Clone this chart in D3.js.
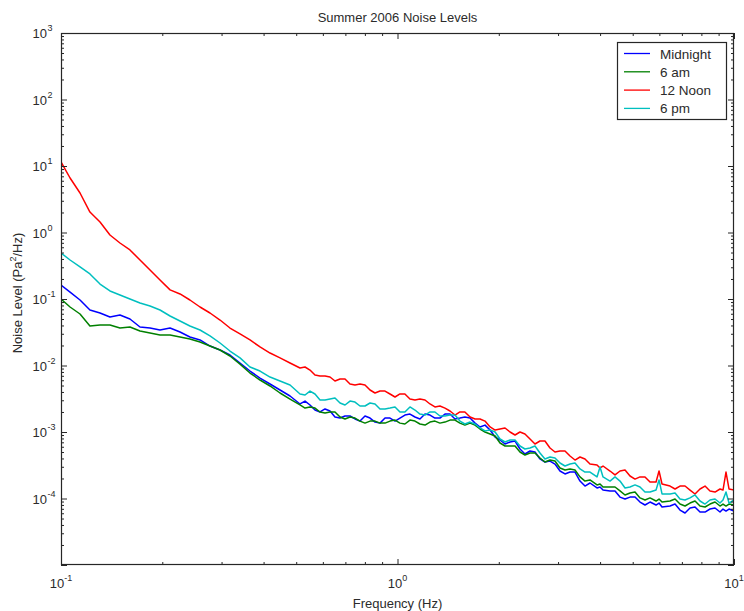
<!DOCTYPE html>
<html>
<head>
<meta charset="utf-8">
<script src="https://cdn.jsdelivr.net/npm/d3@7/dist/d3.min.js"></script>
<style>
  html, body { margin: 0; padding: 0; background: #fff; }
  svg { display: block; font-family: "Liberation Sans", Arial, sans-serif; }
</style>
</head>
<body>
<svg id="chart" width="744" height="611"></svg>
<script>
// Frequency bins (Hz), shared by all four spectra
const freqs = [
  0.1, 0.1064, 0.1139, 0.1219, 0.1306, 0.1398, 0.1497, 0.1603, 0.1717, 0.1839,
  0.1969, 0.2109, 0.2258, 0.2416, 0.2589, 0.2772, 0.2969, 0.3178, 0.3404, 0.3645,
  0.3903, 0.4180, 0.4476, 0.4793,
  0.5132, 0.5311, 0.5495, 0.5686, 0.5885, 0.6090, 0.6301, 0.6520, 0.6748, 0.6983,
  0.7225, 0.7476, 0.7737, 0.8006, 0.8286, 0.8574, 0.8872, 0.9181, 0.9500, 0.9831,
  1.017, 1.052, 1.089, 1.127, 1.166, 1.207, 1.249, 1.292, 1.337, 1.384,
  1.432, 1.482, 1.533, 1.586, 1.643, 1.700, 1.759, 1.820, 1.884, 1.950,
  2.017, 2.087, 2.160, 2.235, 2.312, 2.392, 2.476, 2.562, 2.651, 2.743,
  2.839, 2.938, 3.040, 3.146, 3.256, 3.369, 3.486, 3.607, 3.733,
  3.917, 3.998, 4.081,
  4.281, 4.430, 4.584, 4.744, 4.909, 5.080, 5.256, 5.439, 5.629,
  5.866, 5.987, 6.111,
  6.455, 6.680, 6.911, 7.152, 7.401, 7.659, 7.925, 8.201, 8.486, 8.781, 9.087,
  9.275, 9.467, 9.664, 10];

// Noise levels, Pa^2/Hz
const midnight = [
  0.162, 0.127, 0.0966, 0.0683, 0.0616, 0.0536, 0.0575, 0.0500, 0.0379, 0.0366,
  0.0342, 0.0366, 0.0319, 0.0268, 0.0242, 0.0196, 0.0171, 0.0144, 0.0109, 0.00826,
  0.00648, 0.00527, 0.00428, 0.00348,
  0.00264, 0.00292, 0.00255, 0.00214, 0.00200, 0.00222, 0.00207, 0.00168, 0.00162, 0.00174,
  0.00174, 0.00157, 0.00146, 0.00174, 0.00162, 0.00141, 0.00136, 0.00162, 0.00162, 0.00146,
  0.00162, 0.00180, 0.00186, 0.00168, 0.00157, 0.00186, 0.00180, 0.00162, 0.00162, 0.00186,
  0.00186, 0.00157, 0.00162, 0.00168, 0.00162, 0.00136, 0.00119, 0.00127, 0.00107, 0.000841,
  0.000758, 0.000660, 0.000707, 0.000732, 0.000555, 0.000467, 0.000518, 0.000500, 0.000393, 0.000354,
  0.000366, 0.000330, 0.000259, 0.000234, 0.000250, 0.000250, 0.000183, 0.000154, 0.000171,
  0.000144, 0.000149, 0.000134,
  0.000130, 0.000130, 0.000105, 0.0000982, 0.000105, 0.000105, 0.0000885, 0.0000798, 0.0000885,
  0.0000798, 0.0000855, 0.0000745,
  0.0000771, 0.0000826, 0.0000671, 0.0000605, 0.0000719, 0.0000745, 0.0000626, 0.0000626, 0.0000695, 0.0000719, 0.0000626,
  0.0000695, 0.0000648, 0.0000695, 0.0000648];

const sixAm = [
  0.100, 0.0758, 0.0595, 0.0393, 0.0406, 0.0406, 0.0366, 0.0379, 0.0330, 0.0308,
  0.0288, 0.0288, 0.0268, 0.0250, 0.0226, 0.0196, 0.0171, 0.0139, 0.0105, 0.00771,
  0.00605, 0.00492, 0.00386, 0.00313,
  0.00255, 0.00229, 0.00238, 0.00229, 0.00200, 0.00193, 0.00200, 0.00200, 0.00168, 0.00157,
  0.00168, 0.00162, 0.00146, 0.00136, 0.00146, 0.00146, 0.00136, 0.00136, 0.00146, 0.00151,
  0.00136, 0.00132, 0.00151, 0.00146, 0.00132, 0.00127, 0.00141, 0.00146, 0.00136, 0.00141,
  0.00151, 0.00151, 0.00136, 0.00127, 0.00136, 0.00127, 0.00111, 0.00100, 0.000933, 0.000871,
  0.000683, 0.000616, 0.000616, 0.000616, 0.000500, 0.000451, 0.000483, 0.000483, 0.000406, 0.000354,
  0.000379, 0.000366, 0.000288, 0.000268, 0.000278, 0.000268, 0.000211, 0.000183, 0.000190,
  0.000160, 0.000165, 0.000149,
  0.000149, 0.000149, 0.000130, 0.000113, 0.000121, 0.000125, 0.000102, 0.0000949, 0.000102,
  0.0000917, 0.0000982, 0.0000885,
  0.0000917, 0.0000982, 0.0000826, 0.0000771, 0.0000855, 0.0000917, 0.0000771, 0.0000745, 0.0000826, 0.0000885, 0.0000771,
  0.0000826, 0.0000771, 0.0000826, 0.0000798];

const noon = [
  11.5, 6.60, 3.93, 2.03, 1.44, 0.917, 0.695, 0.546, 0.386, 0.273,
  0.193, 0.137, 0.119, 0.0966, 0.0758, 0.0616, 0.0483, 0.0366, 0.0298, 0.0242,
  0.0190, 0.0154, 0.0130, 0.0109,
  0.00917, 0.00949, 0.00855, 0.00719, 0.00695, 0.00695, 0.00671, 0.00584, 0.00626, 0.00626,
  0.00527, 0.00509, 0.00527, 0.00509, 0.00428, 0.00386, 0.00413, 0.00413, 0.00373, 0.00336,
  0.00373, 0.00373, 0.00313, 0.00303, 0.00313, 0.00303, 0.00264, 0.00238, 0.00246, 0.00229,
  0.00207, 0.00180, 0.00200, 0.00200, 0.00168, 0.00157, 0.00157, 0.00146, 0.00119, 0.00107,
  0.00111, 0.00115, 0.00100, 0.000901, 0.00100, 0.000933, 0.000785, 0.000660, 0.000732, 0.000732,
  0.000575, 0.000500, 0.000518, 0.000518, 0.000436, 0.000379, 0.000421, 0.000393, 0.000330,
  0.000319, 0.000288, 0.000308,
  0.000259, 0.000226, 0.000259, 0.000268, 0.000218, 0.000196, 0.000211, 0.000211, 0.000177,
  0.000177, 0.000259, 0.000165,
  0.000154, 0.000139, 0.000154, 0.000154, 0.000134, 0.000117, 0.000139, 0.000154, 0.000130, 0.000125, 0.000139,
  0.000134, 0.000250, 0.000139, 0.000134];

const sixPm = [
  0.492, 0.386, 0.303, 0.238, 0.168, 0.132, 0.115, 0.100, 0.0871, 0.0785,
  0.0683, 0.0555, 0.0467, 0.0393, 0.0342, 0.0278, 0.0218, 0.0165, 0.0130, 0.00949,
  0.00826, 0.00671, 0.00584, 0.00509,
  0.00373, 0.00360, 0.00413, 0.00373, 0.00303, 0.00303, 0.00313, 0.00324, 0.00273, 0.00255,
  0.00292, 0.00282, 0.00246, 0.00246, 0.00273, 0.00264, 0.00222, 0.00222, 0.00229, 0.00238,
  0.00200, 0.00200, 0.00238, 0.00214, 0.00186, 0.00180, 0.00200, 0.00200, 0.00174, 0.00174,
  0.00180, 0.00180, 0.00146, 0.00132, 0.00141, 0.00132, 0.00115, 0.00104, 0.00107, 0.00100,
  0.000785, 0.000707, 0.000758, 0.000758, 0.000616, 0.000555, 0.000575, 0.000616, 0.000483, 0.000393,
  0.000421, 0.000406, 0.000342, 0.000308, 0.000330, 0.000342, 0.000278, 0.000250, 0.000250,
  0.000211, 0.000298, 0.000211,
  0.000183, 0.000211, 0.000183, 0.000144, 0.000149, 0.000160, 0.000149, 0.000125, 0.000125,
  0.000134, 0.000190, 0.000117,
  0.000117, 0.000121, 0.0000982, 0.0000949, 0.000102, 0.000113, 0.0000917, 0.0000826, 0.0000949, 0.0000982, 0.0000855,
  0.0000949, 0.000125, 0.0000855, 0.0000949];

const seriesNames = ["Midnight", "6 am", "12 Noon", "6 pm"];
const seriesValues = [midnight, sixAm, noon, sixPm];
const seriesColors = ["#0000ff", "#008000", "#ff0000", "#00bfbf"];

// Axis decades (exponents of 10); the lowest y decade carries no label
const xDecades = [-1, 0, 1];
const yDecades = [-5, -4, -3, -2, -1, 0, 1, 2, 3];
const yLabelDecades = [-4, -3, -2, -1, 0, 1, 2, 3];

const chartTitle = "Summer 2006 Noise Levels";
const xTitle = "Frequency (Hz)";

const svg = d3.select("#chart");
const plot = { left: 61, right: 734, top: 33, bottom: 565 };

const x = d3.scaleLog().domain([0.1, 10]).range([plot.left, plot.right]);
const y = d3.scaleLog().domain([1e-5, 1e3]).range([plot.bottom, plot.top]);

// minor ticks: 2..9 within each decade
function minorTicks(decades) {
  const out = [];
  for (let i = 0; i < decades.length - 1; i++) {
    for (let m = 2; m <= 9; m++) out.push(m * Math.pow(10, decades[i]));
  }
  return out;
}
const xMajor = xDecades.map(e => Math.pow(10, e));
const yMajor = yDecades.map(e => Math.pow(10, e));
const xMinor = minorTicks(xDecades);
const yMinor = minorTicks(yDecades);

svg.append("defs").append("clipPath").attr("id", "plotClip")
  .append("rect")
  .attr("x", plot.left).attr("y", plot.top)
  .attr("width", plot.right - plot.left).attr("height", plot.bottom - plot.top);

svg.append("rect")
  .attr("x", plot.left).attr("y", plot.top)
  .attr("width", plot.right - plot.left).attr("height", plot.bottom - plot.top)
  .attr("fill", "#fff");

// spectra, drawn in legend order so 6 pm ends up on top
const line = d3.line()
  .x(d => x(d[0]))
  .y(d => y(d[1]));

const lines = svg.append("g").attr("clip-path", "url(#plotClip)");
seriesValues.forEach((vals, i) => {
  lines.append("path")
    .datum(freqs.map((f, j) => [f, vals[j]]))
    .attr("fill", "none")
    .attr("stroke", seriesColors[i])
    .attr("stroke-width", 1.5)
    .attr("stroke-linejoin", "round")
    .attr("d", line);
});

// inward ticks on all four sides
const axisColor = "#262626";
function drawAxis(axisGen, transform, ticks, size) {
  const g = svg.append("g").attr("transform", transform)
    .call(axisGen.tickValues(ticks).tickSize(size).tickFormat(""));
  g.select(".domain").remove();
  g.selectAll(".tick line").attr("stroke", axisColor).attr("stroke-width", 1);
  return g;
}
drawAxis(d3.axisBottom(x), `translate(0,${plot.bottom})`, xMajor, -6);
drawAxis(d3.axisBottom(x), `translate(0,${plot.bottom})`, xMinor, -3);
drawAxis(d3.axisTop(x), `translate(0,${plot.top})`, xMajor, -6);
drawAxis(d3.axisTop(x), `translate(0,${plot.top})`, xMinor, -3);
drawAxis(d3.axisLeft(y), `translate(${plot.left},0)`, yMajor, -6);
drawAxis(d3.axisLeft(y), `translate(${plot.left},0)`, yMinor, -3);
drawAxis(d3.axisRight(y), `translate(${plot.right},0)`, yMajor, -6);
drawAxis(d3.axisRight(y), `translate(${plot.right},0)`, yMinor, -3);

// axes box
svg.append("rect")
  .attr("x", plot.left + 0.5).attr("y", plot.top + 0.5)
  .attr("width", plot.right - plot.left - 1).attr("height", plot.bottom - plot.top - 1)
  .attr("fill", "none").attr("stroke", axisColor).attr("stroke-width", 1.2);

const labelColor = "#2b2b2b";
// y tick labels: 10 with superscript exponent
const yLab = svg.append("g").attr("fill", labelColor);
yLabelDecades.forEach(e => {
  const yy = y(Math.pow(10, e));
  yLab.append("text")
    .attr("x", plot.left - 14).attr("y", yy + 5)
    .attr("text-anchor", "end").attr("font-size", 13)
    .text("10");
  yLab.append("text")
    .attr("x", plot.left - 13.5).attr("y", yy - 2)
    .attr("text-anchor", "start").attr("font-size", 9)
    .text(String(e));
});

// x tick labels
const xLab = svg.append("g").attr("fill", labelColor);
xDecades.forEach(e => {
  const t = xLab.append("text")
    .attr("x", x(Math.pow(10, e))).attr("y", plot.bottom + 23)
    .attr("text-anchor", "middle").attr("font-size", 13);
  t.append("tspan").text("10");
  t.append("tspan").attr("font-size", 9).attr("dy", -7).text(String(e));
});

// titles
svg.append("text")
  .attr("x", (plot.left + plot.right) / 2).attr("y", 22)
  .attr("text-anchor", "middle").attr("font-size", 13).attr("fill", labelColor)
  .text(chartTitle);

svg.append("text")
  .attr("x", (plot.left + plot.right) / 2).attr("y", 608)
  .attr("text-anchor", "middle").attr("font-size", 13).attr("fill", labelColor)
  .text(xTitle);

const yt = svg.append("text")
  .attr("transform", `translate(22,${(plot.top + plot.bottom) / 2 - 6}) rotate(-90)`)
  .attr("text-anchor", "middle").attr("font-size", 13).attr("fill", labelColor);
yt.append("tspan").text("Noise Level (Pa");
yt.append("tspan").attr("font-size", 9).attr("dy", -6).text("2");
yt.append("tspan").attr("dy", 6).text("/Hz)");

// legend
const legend = svg.append("g");
const lg = { x: 617, y: 42, w: 109, h: 77, rowH: 18.3 };
legend.append("rect")
  .attr("x", lg.x + 0.5).attr("y", lg.y + 0.5)
  .attr("width", lg.w).attr("height", lg.h)
  .attr("fill", "#fff").attr("stroke", axisColor).attr("stroke-width", 1.2);
seriesNames.forEach((name, i) => {
  const cy = lg.y + 11.5 + i * lg.rowH;
  legend.append("line")
    .attr("x1", lg.x + 7).attr("x2", lg.x + 33)
    .attr("y1", cy).attr("y2", cy)
    .attr("stroke", seriesColors[i]).attr("stroke-width", 1.3);
  legend.append("text")
    .attr("x", lg.x + 43).attr("y", cy + 5)
    .attr("font-size", 13.5).attr("fill", labelColor)
    .text(name);
});
</script>
</body>
</html>
